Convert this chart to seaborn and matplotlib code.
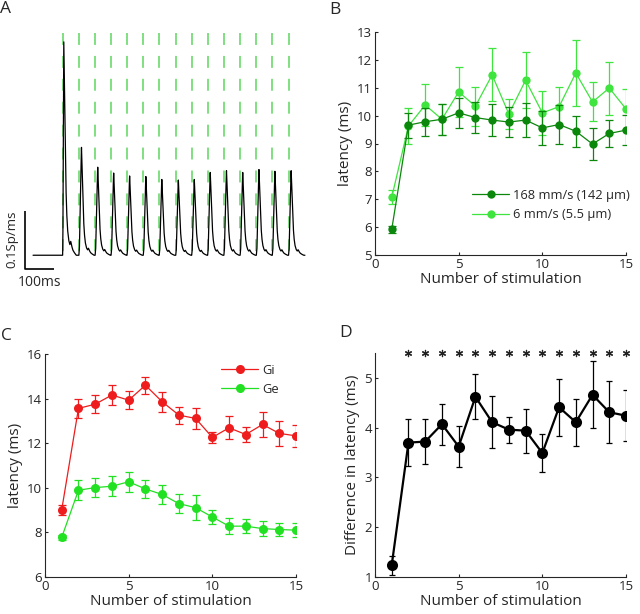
import numpy as np
import matplotlib
matplotlib.use("Agg")
import matplotlib.pyplot as plt
import seaborn as sns
import pandas as pd

sns.set_style("ticks")
plt.rcParams['font.family'] = ['Open Sans', 'DejaVu Sans']
plt.rcParams['xtick.direction'] = 'in'
plt.rcParams['ytick.direction'] = 'in'
plt.rcParams['xtick.major.size'] = 2.5
plt.rcParams['ytick.major.size'] = 2.5
plt.rcParams['axes.linewidth'] = 0.8

# ---------------- data ----------------
stim_n = [1, 2, 3, 4, 5, 6, 7, 8, 9, 10, 11, 12, 13, 14, 15]

# Panel A (PSTH)
stim_times_ms = [147, 203, 259, 314, 369, 425, 480, 537, 592, 647, 703, 759, 815, 870, 926]
peak_amp = [0.366, 0.185, 0.151, 0.141, 0.136, 0.135, 0.130, 0.129, 0.130, 0.142,
            0.145, 0.142, 0.147, 0.144, 0.145]
peak_delay_ms = [4, 9, 9, 9, 9, 9, 9, 9, 9, 9, 9, 9, 9, 9, 9]
kernel_t = [-9, -7, -4, -1, 0, 2, 5, 7, 10, 13, 17, 21, 24, 27, 31, 35, 43]
kernel_v = [0, 0.08, 0.5, 0.92, 1.0, 0.82, 0.52, 0.34, 0.2, 0.12, 0.07, 0.05, 0.065, 0.045, 0.025, 0.015, 0]
trace_start_ms = 45
trace_end_ms = 983
baseline_rate = 0.003

# Panel B
B_fast_mean = [5.92, 9.66, 9.78, 9.87, 10.10, 9.93, 9.84, 9.77, 9.84, 9.56, 9.68, 9.44, 8.98, 9.36, 9.48]
B_fast_err = [0.12, 0.45, 0.50, 0.55, 0.55, 0.55, 0.57, 0.55, 0.62, 0.60, 0.70, 0.56, 0.58, 0.50, 0.55]
B_slow_mean = [7.07, 9.63, 10.38, 9.87, 10.85, 10.34, 11.46, 10.06, 11.27, 10.10, 10.32, 11.53, 10.49, 10.99, 10.24]
B_slow_err = [0.25, 0.65, 0.75, 0.55, 0.90, 0.70, 0.95, 0.55, 1.00, 0.79, 0.70, 1.17, 0.70, 0.95, 0.72]
B_labels = ["168 mm/s (142 μm)", "6 mm/s (5.5 μm)"]

# Panel C
C_gi = [9.02, 13.56, 13.75, 14.16, 13.93, 14.60, 13.86, 13.26, 13.11, 12.26, 12.69, 12.39, 12.84, 12.44, 12.33]
C_gi_err = [0.22, 0.42, 0.40, 0.43, 0.40, 0.38, 0.45, 0.38, 0.48, 0.26, 0.52, 0.34, 0.54, 0.56, 0.50]
C_ge = [7.78, 9.89, 10.01, 10.07, 10.27, 9.95, 9.70, 9.29, 9.11, 8.69, 8.28, 8.28, 8.17, 8.13, 8.10]
C_ge_err = [0.10, 0.45, 0.41, 0.45, 0.46, 0.41, 0.42, 0.44, 0.56, 0.31, 0.35, 0.30, 0.33, 0.28, 0.30]
C_labels = ["Gi", "Ge"]

# Panel D
D_diff = [1.24, 3.70, 3.72, 4.07, 3.62, 4.62, 4.11, 3.96, 3.94, 3.49, 4.41, 4.11, 4.66, 4.31, 4.24]
D_err = [0.19, 0.47, 0.45, 0.41, 0.42, 0.45, 0.52, 0.26, 0.44, 0.39, 0.57, 0.47, 0.67, 0.62, 0.51]
D_signif = [2, 3, 4, 5, 6, 7, 8, 9, 10, 11, 12, 13, 14, 15]

# colours
c_dark = "#0b870b"
c_light = "#3fe43f"
c_red = "#ee1c1c"
c_ge = "#22e022"
c_stim = "#5ed65e"

W, H = 640, 614
fig = plt.figure(figsize=(6.4, 6.14), dpi=100)


def add_ax(L, R, T, B):
    return fig.add_axes([L / W, 1 - B / H, (R - L) / W, (B - T) / H])


TICK_FS = 9.5
LAB_FS = 11
LET_FS = 12.5
LEG_FS = 9.3

# ---------------- Panel A ----------------
axA = add_ax(20, 310, 25, 300)
t = np.arange(trace_start_ms, trace_end_ms, 0.5)
rate = np.full_like(t, baseline_rate, dtype=float)
for st, amp, dl in zip(stim_times_ms, peak_amp, peak_delay_ms):
    kt = np.asarray(kernel_t, dtype=float)
    kt = np.where(kt < 0, kt * dl / 9.0, kt)
    rate += amp * np.interp(t - (st + dl), kt, kernel_v, left=0, right=0)
dfA = pd.DataFrame({"t": t, "rate": rate})
top_stim = 0.384
axA.vlines(stim_times_ms, top_stim, 0, colors=c_stim, linewidth=1.1,
           linestyles=[(0, (7.8, 7.2))])
sns.lineplot(data=dfA, x="t", y="rate", ax=axA, color="black", linewidth=0.9)
axA.set_xlim(0, 1000)
axA.set_ylim(-0.0738, 0.398)
axA.axis("off")
# scale bars
axA.plot([17, 17, 117], [0.0794, -0.0206, -0.0206], color="black", linewidth=1.2,
         solid_capstyle="butt", clip_on=False)
axA.text(69, -0.0445, "100ms", ha="center", va="center", fontsize=10)
axA.text(-27, 0.031, "0.1Sp/ms", ha="center", va="center", rotation=90, fontsize=9.5)

# ---------------- Panel B ----------------
axB = add_ax(375, 626, 32, 255)
for lab, mean, err, col in [(B_labels[1], B_slow_mean, B_slow_err, c_light),
                            (B_labels[0], B_fast_mean, B_fast_err, c_dark)]:
    axB.errorbar(stim_n, mean, yerr=err, fmt="none", ecolor=col, elinewidth=0.9,
                 capsize=3, capthick=0.9)
    sns.lineplot(x=stim_n, y=mean, ax=axB, color=col, marker="o", markersize=6,
                 markeredgewidth=0, linewidth=0.9, label=lab)
axB.set_xlim(0, 15)
axB.set_ylim(5, 13)
axB.set_xticks([0, 5, 10, 15])
axB.set_yticks([5, 6, 7, 8, 9, 10, 11, 12, 13])
axB.set_xlabel("Number of stimulation", fontsize=LAB_FS, labelpad=1)
axB.set_ylabel("latency (ms)", fontsize=LAB_FS, labelpad=3)
axB.tick_params(labelsize=TICK_FS, pad=2)
h, l = axB.get_legend_handles_labels()
axB.legend([h[1], h[0]], [l[1], l[0]], frameon=False, fontsize=LEG_FS,
           loc="upper left", bbox_to_anchor=(472 / W, 1 - 189 / H),
           bbox_transform=fig.transFigure, handlelength=2.9, handletextpad=0.3,
           borderpad=0, borderaxespad=0, labelspacing=0.5)
sns.despine(ax=axB)

# ---------------- Panel C ----------------
axC = add_ax(45, 296, 354, 577)
for lab, mean, err, col in [(C_labels[0], C_gi, C_gi_err, c_red),
                            (C_labels[1], C_ge, C_ge_err, c_ge)]:
    axC.errorbar(stim_n, mean, yerr=err, fmt="none", ecolor=col, elinewidth=0.9,
                 capsize=3, capthick=0.9)
    sns.lineplot(x=stim_n, y=mean, ax=axC, color=col, marker="o", markersize=6.5,
                 markeredgewidth=0, linewidth=0.9, label=lab)
axC.set_xlim(0, 15)
axC.set_ylim(6, 16)
axC.set_xticks([0, 5, 10, 15])
axC.set_yticks([6, 8, 10, 12, 14, 16])
axC.set_xlabel("Number of stimulation", fontsize=LAB_FS, labelpad=1)
axC.set_ylabel("latency (ms)", fontsize=LAB_FS, labelpad=3)
axC.tick_params(labelsize=TICK_FS, pad=2)
axC.legend(frameon=False, fontsize=LEG_FS, loc="upper left",
           bbox_to_anchor=(221 / W, 1 - 364 / H), bbox_transform=fig.transFigure,
           handlelength=2.9, handletextpad=0.3, borderpad=0, borderaxespad=0,
           labelspacing=0.45)
sns.despine(ax=axC)

# ---------------- Panel D ----------------
axD = add_ax(375, 626, 353, 577)
axD.errorbar(stim_n, D_diff, yerr=D_err, fmt="none", ecolor="black", elinewidth=0.9,
             capsize=2.5, capthick=0.9)
sns.lineplot(x=stim_n, y=D_diff, ax=axD, color="black", marker="o", markersize=8,
             markeredgewidth=0, linewidth=1.6)
axD.set_xlim(0, 15)
axD.set_ylim(1, 5.5)
axD.set_xticks([0, 5, 10, 15])
axD.set_yticks([1, 2, 3, 4, 5])
axD.scatter(D_signif, [5.5] * len(D_signif), marker=(6, 2, 0), s=20, color="#222222",
            linewidths=0.9, clip_on=False, zorder=5)
axD.set_xlabel("Number of stimulation", fontsize=LAB_FS, labelpad=1)
axD.set_ylabel("Difference in latency (ms)", fontsize=LAB_FS, labelpad=3)
axD.tick_params(labelsize=TICK_FS, pad=2)
sns.despine(ax=axD)

# panel letters
for txt, x, y in [("A", 0, 1), ("B", 329, 2), ("C", 1, 328), ("D", 339, 325)]:
    fig.text(x / W, 1 - y / H, txt, fontsize=LET_FS, ha="left", va="top")

fig.savefig("out.png", dpi=100)
